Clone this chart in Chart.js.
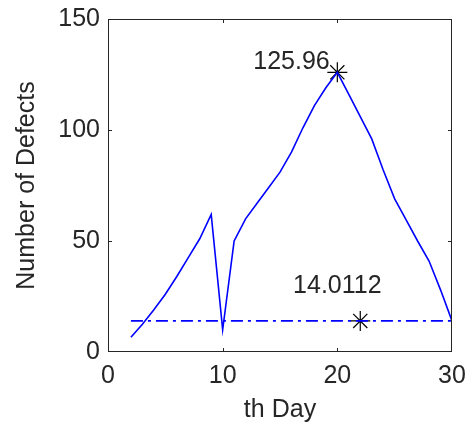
<!DOCTYPE html>
<html>
<head>
<meta charset="utf-8">
<script src="https://cdn.jsdelivr.net/npm/chart.js@4/dist/chart.umd.min.js"></script>
<style>
  html, body { margin: 0; padding: 0; background: #fff; }
  #wrap { width: 466px; height: 422px; }
</style>
</head>
<body>
<div id="wrap"><canvas id="defects"></canvas></div>
<script>
// values
const days = [2, 3, 4, 5, 6, 7, 8, 9, 10, 11, 12, 13, 14, 15, 16, 17, 18, 19, 20, 21, 22, 23, 24, 25, 26, 27, 28, 29, 30];
const defects = [6.6, 12.5, 19, 26, 34, 42.5, 51, 62, 10, 50, 60, 67, 74, 81, 90, 101, 111, 119, 125.96, 116, 106, 96, 82, 69, 59.5, 50, 41, 28, 14];
const meanLevel = 14.0112;
const meanSpan = [2, 30];
const peakPoint = [20, 125.96];
const meanMarker = [22, 14.0112];
const xTicks = [0, 10, 20, 30];
const yTicks = [0, 50, 100, 150];

const ink = '#262626';
const fontFamily = '"Liberation Sans", Arial, sans-serif';
Chart.defaults.font.family = fontFamily;
Chart.defaults.font.size = 25;
Chart.defaults.color = ink;

// box round the axes plus MATLAB style inward ticks, and the two value labels
const boxAndLabels = {
    id: 'boxAndLabels',
    afterDatasetsDraw(chart) {
        const { ctx, chartArea: a, scales: { x, y } } = chart;
        ctx.save();
        ctx.strokeStyle = ink;
        ctx.lineWidth = 1;
        ctx.strokeRect(a.left + 0.5, a.top + 0.5, a.right - a.left - 1, a.bottom - a.top - 1);
        ctx.beginPath();
        xTicks.slice(1, -1).forEach(v => {
            const px = Math.round(x.getPixelForValue(v)) + 0.5;
            ctx.moveTo(px, a.bottom); ctx.lineTo(px, a.bottom - 4);
            ctx.moveTo(px, a.top); ctx.lineTo(px, a.top + 4);
        });
        yTicks.slice(1, -1).forEach(v => {
            const py = Math.round(y.getPixelForValue(v)) + 0.5;
            ctx.moveTo(a.left, py); ctx.lineTo(a.left + 4, py);
            ctx.moveTo(a.right, py); ctx.lineTo(a.right - 4, py);
        });
        ctx.stroke();

        ctx.fillStyle = ink;
        ctx.font = '25px ' + fontFamily;
        ctx.textBaseline = 'middle';
        ctx.textAlign = 'center';
        ctx.fillText(String(peakPoint[1]), x.getPixelForValue(16), y.getPixelForValue(130.5));
        ctx.fillText(String(meanLevel), x.getPixelForValue(20), y.getPixelForValue(29.7));
        ctx.restore();
    }
};

new Chart(document.getElementById('defects'), {
    type: 'line',
    data: {
        datasets: [{
            data: days.map((d, i) => ({ x: d, y: defects[i] })),
            borderColor: '#0000ff',
            borderWidth: 1.6,
            pointRadius: 0,
            tension: 0
        }, {
            data: meanSpan.map(d => ({ x: d, y: meanLevel })),
            borderColor: '#0000ff',
            borderWidth: 1.6,
            borderDash: [12, 5, 3, 5],
            pointRadius: 0
        }, {
            data: [{ x: peakPoint[0], y: peakPoint[1] }, { x: meanMarker[0], y: meanMarker[1] }],
            showLine: false,
            pointStyle: 'star',
            pointRadius: 10,
            pointBorderColor: '#000',
            pointBorderWidth: 1.2,
            pointBackgroundColor: '#000'
        }]
    },
    options: {
        responsive: true,
        maintainAspectRatio: false,
        animation: false,
        layout: { padding: { top: 19, right: 14, left: 0, bottom: 0 } },
        plugins: {
            legend: { display: false },
            tooltip: { enabled: false }
        },
        scales: {
            x: {
                type: 'linear',
                min: 0,
                max: 30,
                afterBuildTicks: s => { s.ticks = xTicks.map(v => ({ value: v })); },
                afterFit: s => { s.height = 70; s.paddingLeft = 0; s.paddingRight = 0; },
                grid: { display: false, drawTicks: false },
                border: { display: false },
                ticks: { padding: 9, color: ink },
                title: { display: true, text: 'th Day', color: ink, font: { size: 25 }, padding: { top: 0, bottom: -3 } }
            },
            y: {
                min: 0,
                max: 150,
                afterBuildTicks: s => { s.ticks = yTicks.map(v => ({ value: v })); },
                afterFit: s => { s.width = 108; s.paddingTop = 0; s.paddingBottom = 0; },
                grid: { display: false, drawTicks: false },
                border: { display: false },
                ticks: { padding: 8, color: ink },
                title: { display: true, text: 'Number of Defects', color: ink, font: { size: 25 }, padding: { top: 12, bottom: 0 } }
            }
        }
    },
    plugins: [boxAndLabels]
});
</script>
</body>
</html>
